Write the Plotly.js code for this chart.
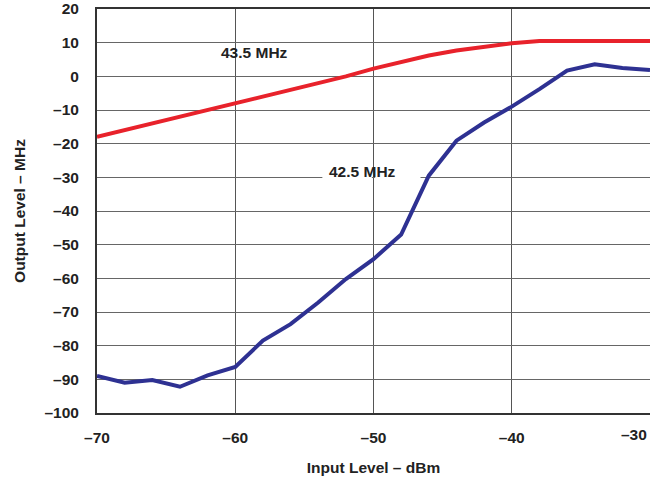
<!DOCTYPE html>
<html><head><meta charset="utf-8">
<script src="https://cdn.plot.ly/plotly-3.0.1.min.js"></script>
<style>html,body{margin:0;padding:0;background:#fff}#chart{width:650px;height:480px}</style>
</head><body><div id="chart"></div>
<script>
const inputLevel = [-70,-68,-66,-64,-62,-60,-58,-56,-54,-52,-50,-48,-46,-44,-42,-40,-38,-36,-34,-32,-30];
const out435 = [-18,-16,-14,-12.2,-10,-8,-6,-4,-2,0,2.3,4.3,6.2,7.7,8.8,9.8,10.5,10.5,10.5,10.5,10.5];
const out425 = [-89,-91,-90.2,-92.2,-88.8,-86.3,-78.5,-73.6,-67.2,-60.2,-54.3,-47,-29.5,-19.1,-13.7,-9,-3.8,1.7,3.6,2.5,1.9];
const xTicks = [-70,-60,-50,-40,-30];
const xTickText = ['\u201370','\u201360','\u201350','\u201340','\u201330'];
const yTicks = [-100,-90,-80,-70,-60,-50,-40,-30,-20,-10,0,10,20];
const yTickText = ['\u2013100','\u201390','\u201380','\u201370','\u201360','\u201350','\u201340','\u201330','\u201320','\u201310','0','10','20'];
const seriesNames = ['43.5 MHz','42.5 MHz'];

const font = 'Liberation Sans, Arial, sans-serif';
const fs = 15.5;
const traces = [
  {x: inputLevel, y: out435, mode:'lines', name: seriesNames[0], line:{color:'#e8222b', width:4}},
  {x: inputLevel, y: out425, mode:'lines', name: seriesNames[1], line:{color:'#2e3192', width:4}}
];
// the last x tick label sits flush against the right edge in the reference
const lastIdx = xTicks.length - 1;
const shownXTickText = xTickText.map((t, i) => i === lastIdx ? '' : t);
const layout = {
  width:650, height:480,
  margin:{l:97, r:0, t:9, b:67},
  showlegend:false,
  paper_bgcolor:'#fff', plot_bgcolor:'#fff',
  font:{family:font, color:'#222'},
  xaxis:{range:[-70,-30], tickvals:xTicks, ticktext:shownXTickText, showgrid:true, gridcolor:'#555', gridwidth:1,
    showline:true, linecolor:'#333', linewidth:2, mirror:true, zeroline:false, ticks:'', ticklabelstandoff:9,
    tickfont:{family:font, size:fs, color:'#222', weight:'bold'},
    title:{text:'<b>Input Level \u2013 dBm</b>', font:{family:font, size:fs, color:'#222'}, standoff:18}},
  yaxis:{range:[-100,20], tickvals:yTicks, ticktext:yTickText, showgrid:true, gridcolor:'#666', gridwidth:1,
    showline:true, linecolor:'#333', linewidth:2, mirror:true, zeroline:false, ticks:'', ticklabelstandoff:13,
    tickfont:{family:font, size:fs, color:'#222', weight:'bold'},
    title:{text:'<b>Output Level \u2013 MHz</b>', font:{family:font, size:fs, color:'#222'}, standoff:15}},
  shapes:[
    {type:'rect', layer:'between', xref:'x', yref:'y', x0:-53.7, x1:-50.12, y0:-30.6, y1:-29.4, fillcolor:'#fff', line:{width:0}},
    {type:'rect', layer:'between', xref:'x', yref:'y', x0:-49.88, x1:-46.6, y0:-30.6, y1:-29.4, fillcolor:'#fff', line:{width:0}}
  ],
  annotations:[
    {x:-58.6, y:7.1, xref:'x', yref:'y', text:'<b>43.5 MHz</b>', showarrow:false, font:{family:font, size:fs, color:'#222'}},
    {x:-50.8, y:-28.3, xref:'x', yref:'y', text:'<b>42.5 MHz</b>', showarrow:false, font:{family:font, size:fs, color:'#222'}},
    {x:xTicks[lastIdx], y:0, xref:'x', yref:'paper', xanchor:'right', yanchor:'top', xshift:-2, yshift:-12,
     text:'<b>' + xTickText[lastIdx] + '</b>', showarrow:false, borderpad:0, font:{family:font, size:fs, color:'#222'}}
  ]
};
Plotly.newPlot('chart', traces, layout, {staticPlot:true, displayModeBar:false});
</script></body></html>
